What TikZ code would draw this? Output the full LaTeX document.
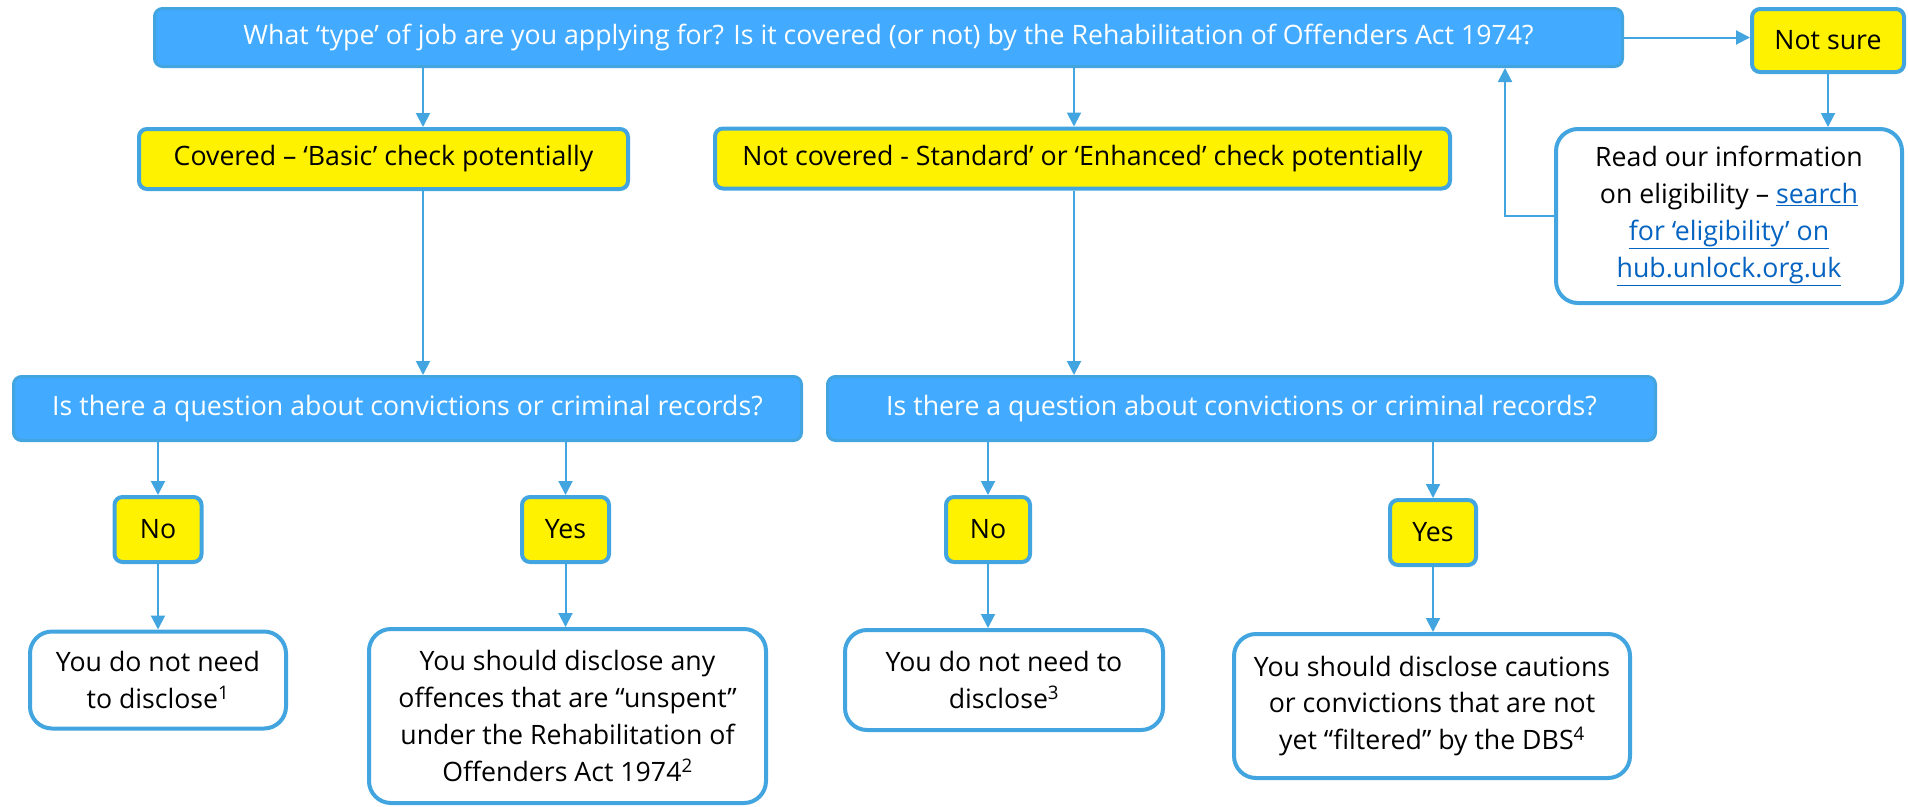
\documentclass[tikz,border=0pt]{standalone}
\usepackage{fontspec}
\setmainfont{Open Sans}
\usetikzlibrary{arrows.meta}
\definecolor{boxblue}{HTML}{42A5DF}
\definecolor{fillblue}{HTML}{42AAFF}
\definecolor{linkblue}{HTML}{0563C1}
\newcommand{\link}[1]{{\color{linkblue}\underline{#1}}}

\begin{document}
\begin{tikzpicture}[x=1pt,y=-1pt,
  every node/.style={font=\fontsize{26.7}{36.7}\selectfont, align=center, inner sep=0pt},
  question/.style={draw=boxblue, fill=fillblue, line width=3pt, rounded corners=8pt, text=white},
  choice/.style={draw=boxblue, fill=yellow, line width=4pt, rounded corners=8pt},
  answer/.style={draw=boxblue, fill=white, line width=4pt, rounded corners=22pt},
  arr/.style={draw=boxblue, line width=2pt, -{Triangle[width=14pt,length=14pt]}}]
  \useasboundingbox (0,0) rectangle (1908,806);
  % top row
  \node[question, minimum width=1468, minimum height=58] (type) at (888.5,37.5)
    {What ‘type’ of job are you applying for? Is it covered (or not) by the Rehabilitation of Offenders Act 1974?};
  \node[choice, minimum width=152, minimum height=63] (notsure) at (1828,40.5) {Not sure};
  \node[answer, minimum width=346, minimum height=174] (read) at (1729,216)
    {Read our information\\on eligibility – \link{search}\\\link{for ‘eligibility’ on}\\\link{hub.unlock.org.uk}};
  % second row
  \node[choice, minimum width=489, minimum height=60] (cov) at (383.5,159) {Covered – ‘Basic’ check potentially};
  \node[choice, minimum width=735, minimum height=60] (ncov) at (1082.5,158.5) {Not covered - Standard’ or ‘Enhanced’ check potentially};
  % questions
  \node[question, minimum width=788, minimum height=64] (q1) at (407.5,408.5) {Is there a question about convictions or criminal records?};
  \node[question, minimum width=828, minimum height=64] (q2) at (1241.5,408.5) {Is there a question about convictions or criminal records?};
  % yes / no
  \node[choice, minimum width=87, minimum height=65] (no1) at (158,529.5) {No};
  \node[choice, minimum width=87, minimum height=65] (yes1) at (565.5,529.5) {Yes};
  \node[choice, minimum width=84, minimum height=65] (no2) at (988,529.5) {No};
  \node[choice, minimum width=86, minimum height=65] (yes2) at (1433,532.5) {Yes};
  % answers
  \node[answer, minimum width=256, minimum height=97] (ans1) at (158,680) {You do not need\\to disclose\textsuperscript{1}};
  \node[answer, minimum width=397, minimum height=174] (ans2) at (567.5,716)
    {You should disclose any\\offences that are “unspent”\\under the Rehabilitation of\\Offenders Act 1974\textsuperscript{2}};
  \node[answer, minimum width=318, minimum height=100] (ans3) at (1004,680) {You do not need to\\disclose\textsuperscript{3}};
  \node[answer, minimum width=396, minimum height=144] (ans4) at (1432,706)
    {You should disclose cautions\\or convictions that are not\\yet “filtered” by the DBS\textsuperscript{4}};
  % arrow columns
  \coordinate (covx) at (423,0);
  \coordinate (ncovx) at (1074,0);
  \coordinate (backx) at (1505,0);
  \draw[arr] (type.east) -- (type.east -| notsure.west);
  \draw[arr] (notsure.south) -- (notsure.south |- read.north);
  \draw[arr] (read.west) -- (read.west -| backx) -- (type.south -| backx);
  \draw[arr] (type.south -| covx) -- (cov.north -| covx);
  \draw[arr] (type.south -| ncovx) -- (ncov.north -| ncovx);
  \draw[arr] (cov.south -| covx) -- (q1.north -| covx);
  \draw[arr] (ncov.south -| ncovx) -- (q2.north -| ncovx);
  \draw[arr] (q1.south -| no1) -- (no1.north);
  \draw[arr] (q1.south -| yes1) -- (yes1.north);
  \draw[arr] (q2.south -| no2) -- (no2.north);
  \draw[arr] (q2.south -| yes2) -- (yes2.north);
  \draw[arr] (no1.south) -- (ans1.north -| no1);
  \draw[arr] (yes1.south) -- (ans2.north -| yes1);
  \draw[arr] (no2.south) -- (ans3.north -| no2);
  \draw[arr] (yes2.south) -- (ans4.north -| yes2);
\end{tikzpicture}
\end{document}
